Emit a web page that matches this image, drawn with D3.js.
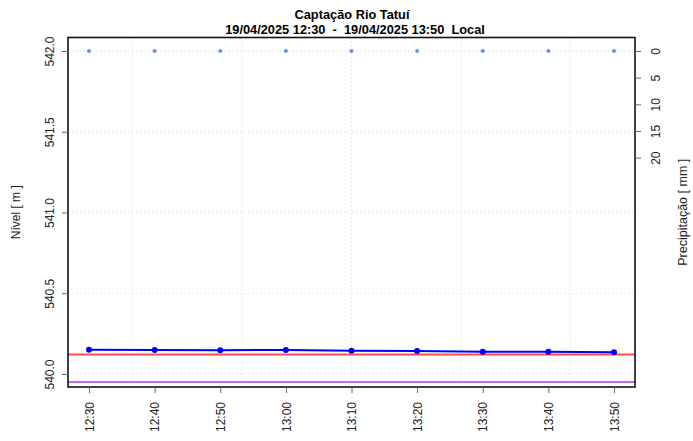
<!DOCTYPE html>
<html>
<head>
<meta charset="utf-8">
<script src="https://cdn.jsdelivr.net/npm/d3@7"></script>
<style>
  body { margin: 0; background: #fff; }
  svg text { font-family: "Liberation Sans", Arial, sans-serif; }
</style>
</head>
<body>
<div id="chart"></div>
<script>
// readings
var times = ["12:30", "12:40", "12:50", "13:00", "13:10", "13:20", "13:30", "13:40", "13:50"];
var nivel = [540.150, 540.149, 540.147, 540.149, 540.144, 540.142, 540.138, 540.138, 540.134];
var chuva = [0, 0, 0, 0, 0, 0, 0, 0, 0];
var nivelAlerta = 540.12;
var nivelMinimo = 539.95;

var nivelTicks = [540.0, 540.5, 541.0, 541.5, 542.0];
var chuvaTicks = [0, 5, 10, 15, 20];
var gridTimes = ["12:36:40", "12:53:20", "13:10:00", "13:26:40", "13:43:20"];

var W = 693, H = 441;
var margin = {top: 37.5, right: 58, bottom: 54, left: 68};
var x0 = margin.left, x1 = W - margin.right, y0 = margin.top, y1 = H - margin.bottom;

var parse = d3.timeParse("%Y-%m-%d %H:%M:%S");
var t = function(s) { return parse("2025-04-19 " + (s.length == 5 ? s + ":00" : s)); };

var data = times.map(function(s, i) { return {t: t(s), nivel: nivel[i], chuva: chuva[i]}; });

var tmin = t(times[0]), tmax = t(times[times.length - 1]);
var pad = (tmax - tmin) * 0.04;

var x = d3.scaleTime()
    .domain([new Date(+tmin - pad), new Date(+tmax + pad)])
    .range([x0, x1]);

var y = d3.scaleLinear()
    .domain([539.9195, 542.0836])
    .range([y1, y0]);

var y2 = d3.scaleLinear()
    .domain([-2.53, 63])
    .range([y0, y1]);

var svg = d3.select("#chart").append("svg")
    .attr("width", W)
    .attr("height", H);

// grid
svg.append("g").selectAll("line")
    .data(nivelTicks)
    .enter().append("line")
    .attr("x1", x0).attr("x2", x1)
    .attr("y1", function(d) { return y(d); })
    .attr("y2", function(d) { return y(d); })
    .attr("stroke", "#d3d3d3")
    .attr("stroke-dasharray", "1,3");

svg.append("g").selectAll("line")
    .data(gridTimes)
    .enter().append("line")
    .attr("y1", y0).attr("y2", y1)
    .attr("x1", function(d) { return x(t(d)); })
    .attr("x2", function(d) { return x(t(d)); })
    .attr("stroke", "#d3d3d3")
    .attr("stroke-dasharray", "1,3");

// reference levels
svg.append("line")
    .attr("x1", x0).attr("x2", x1)
    .attr("y1", y(nivelAlerta)).attr("y2", y(nivelAlerta))
    .attr("stroke", "#ff4d4d")
    .attr("stroke-width", 2);

svg.append("line")
    .attr("x1", x0).attr("x2", x1)
    .attr("y1", y(nivelMinimo)).attr("y2", y(nivelMinimo))
    .attr("stroke", "#a83ff0")
    .attr("stroke-width", 1.6);

// precipitation
svg.append("g").selectAll("circle")
    .data(data)
    .enter().append("circle")
    .attr("cx", function(d) { return x(d.t); })
    .attr("cy", function(d) { return y2(d.chuva); })
    .attr("r", 2)
    .attr("fill", "#6495ed");

// level
var line = d3.line()
    .x(function(d) { return x(d.t); })
    .y(function(d) { return y(d.nivel); });

svg.append("path")
    .datum(data)
    .attr("d", line)
    .attr("fill", "none")
    .attr("stroke", "#0000ff")
    .attr("stroke-width", 2);

svg.append("g").selectAll("circle")
    .data(data)
    .enter().append("circle")
    .attr("cx", function(d) { return x(d.t); })
    .attr("cy", function(d) { return y(d.nivel); })
    .attr("r", 3)
    .attr("fill", "#0000ff");

// box
svg.append("rect")
    .attr("x", x0).attr("y", y0)
    .attr("width", x1 - x0).attr("height", y1 - y0)
    .attr("fill", "none")
    .attr("stroke", "#111")
    .attr("stroke-width", 1.6);

// axes
var fmt = d3.timeFormat("%H:%M");

var gx = svg.append("g")
    .attr("transform", "translate(0," + y1 + ")")
    .call(d3.axisBottom(x).tickValues(data.map(function(d) { return d.t; })).tickFormat(fmt).tickSize(6).tickSizeOuter(0));
gx.select(".domain").remove();
gx.selectAll("line").attr("stroke", "#666");
gx.selectAll("text")
    .attr("transform", "rotate(-90)")
    .attr("x", -15).attr("y", 0)
    .attr("dy", "0.35em")
    .attr("text-anchor", "end")
    .attr("font-size", 12)
    .attr("fill", "#222");

var gy = svg.append("g")
    .attr("transform", "translate(" + x0 + ",0)")
    .call(d3.axisLeft(y).tickValues(nivelTicks).tickFormat(d3.format(".1f")).tickSize(6).tickSizeOuter(0));
gy.select(".domain").remove();
gy.selectAll("line").attr("stroke", "#666");
gy.selectAll("text")
    .attr("transform", "rotate(-90)")
    .attr("x", 0).attr("y", -14)
    .attr("dy", 0)
    .attr("text-anchor", "middle")
    .attr("font-size", 12)
    .attr("fill", "#222");

var gy2 = svg.append("g")
    .attr("transform", "translate(" + x1 + ",0)")
    .call(d3.axisRight(y2).tickValues(chuvaTicks).tickSize(6).tickSizeOuter(0));
gy2.select(".domain").remove();
gy2.selectAll("line").attr("stroke", "#666");
gy2.selectAll("text")
    .attr("transform", "rotate(-90)")
    .attr("x", 0).attr("y", 25)
    .attr("dy", 0)
    .attr("text-anchor", "middle")
    .attr("font-size", 12)
    .attr("fill", "#222");

// labels
svg.append("text")
    .attr("transform", "translate(20," + (y0 + y1) / 2 + ") rotate(-90)")
    .attr("text-anchor", "middle")
    .attr("font-size", 12)
    .attr("fill", "#222")
    .text("Nível [ m ]");

svg.append("text")
    .attr("transform", "translate(687," + (y0 + y1) / 2 + ") rotate(-90)")
    .attr("text-anchor", "middle")
    .attr("font-size", 12.5)
    .attr("fill", "#222")
    .text("Precipitação [ mm ]");

svg.append("text")
    .attr("x", 352).attr("y", 19)
    .attr("text-anchor", "middle")
    .attr("font-size", 12.8)
    .attr("font-weight", "bold")
    .text("Captação Rio Tatuí");

svg.append("text")
    .attr("x", 355).attr("y", 34)
    .attr("text-anchor", "middle")
    .attr("font-size", 12.8)
    .attr("font-weight", "bold")
    .text("19/04/2025 12:30  -  19/04/2025 13:50  Local")
    .style("white-space", "pre");
</script>
</body>
</html>
